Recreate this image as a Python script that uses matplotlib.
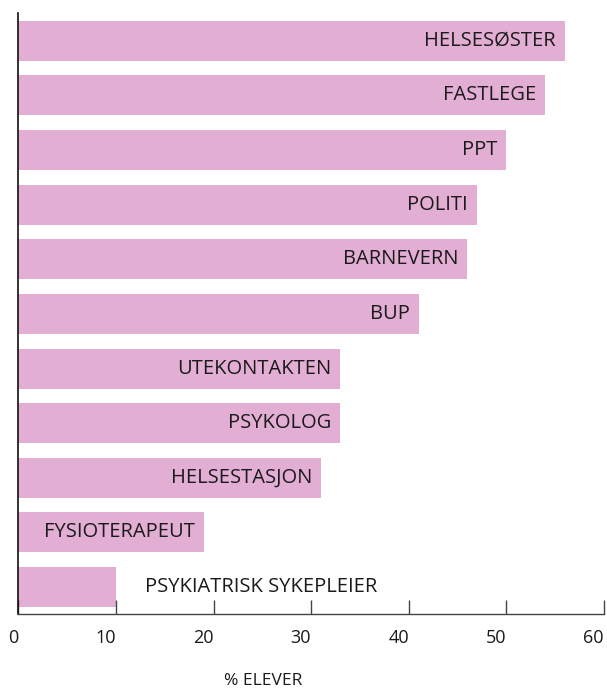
import matplotlib
matplotlib.use("Agg")
import matplotlib.pyplot as plt
import matplotlib.transforms as mtransforms

categories = ["HELSESØSTER", "FASTLEGE", "PPT", "POLITI", "BARNEVERN", "BUP",
              "UTEKONTAKTEN", "PSYKOLOG", "HELSESTASJON", "FYSIOTERAPEUT",
              "PSYKIATRISK SYKEPLEIER"]
values = [56, 54, 50, 47, 46, 41, 33, 33, 31, 19, 10]
xticks = [0, 10, 20, 30, 40, 50, 60]
xlabel = "% ELEVER"

plt.rcParams['font.family'] = ['Open Sans', 'DejaVu Sans']

fig = plt.figure(figsize=(6.07, 6.9), dpi=100)
ax = fig.add_axes([18.4/607, 1 - 614/690, 585.6/607, (614-13)/690])

pos = list(range(len(categories)))
ax.barh(pos, values, height=0.733, color='#E3AED4', left=0)
ax.set_ylim(len(categories) - 0.505, -0.51)
ax.set_xlim(0, 60)

for i, (c, v) in enumerate(zip(categories, values)):
    if v > 15:
        ax.annotate(c, (v, i), xytext=(-9, 0), textcoords='offset pixels',
                    ha='right', va='center', fontsize=14.5, color='#1a1a1a')
    else:
        ax.annotate(c, (v, i), xytext=(29, 0), textcoords='offset pixels',
                    ha='left', va='center', fontsize=14.5, color='#1a1a1a')

ax.set_xticks(xticks)
ax.set_xticklabels([str(t) for t in xticks], fontsize=13, color='#1a1a1a', ha='right')
off = mtransforms.ScaledTranslation(-1.5/100, 0, fig.dpi_scale_trans)
for lab in ax.get_xticklabels():
    lab.set_transform(lab.get_transform() + off)
ax.tick_params(axis='x', direction='in', length=10, width=1, color='#444444', pad=11)
ax.set_yticks([])
for s in ['top', 'right']:
    ax.spines[s].set_visible(False)
ax.spines['left'].set_color('#111111')
ax.spines['left'].set_linewidth(1.2)
ax.spines['bottom'].set_color('#444444')
ax.spines['bottom'].set_linewidth(1)

ax.set_xlabel(xlabel, fontsize=12.5, color='#1a1a1a')
ax.xaxis.set_label_coords((263-18.4)/585.6, -(681-614)/601)
ax.xaxis.label.set_va('center')

fig.savefig("out.png", dpi=100)
